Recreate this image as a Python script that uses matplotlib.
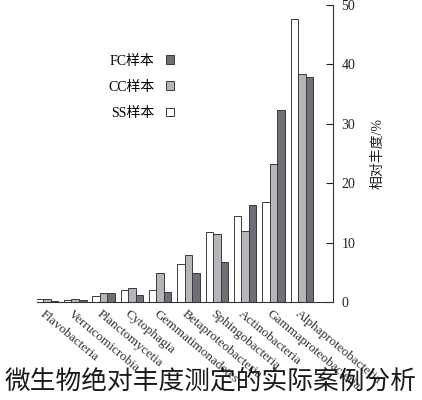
import numpy as np
import matplotlib
matplotlib.use("Agg")
import matplotlib.pyplot as plt

# Classes, ordered from the axis side (right) outwards (left)
classes = [
    "Alphaproteobacteria",
    "Gammaproteobacteria",
    "Actinobacteria",
    "Sphingobacteria",
    "Betaproteobacteria",
    "Gemmatimonadetes",
    "Cytophagia",
    "Planctomycetia",
    "Verrucomicrobia",
    "Flavobacteria",
]

# Relative abundance (%) per sample type
ss_values = [47.6, 16.8, 14.5, 11.8, 6.4, 2.0, 2.0, 1.0, 0.3, 0.5]
cc_values = [38.4, 23.2, 11.9, 11.5, 7.9, 4.8, 2.4, 1.5, 0.5, 0.5]
fc_values = [37.9, 32.3, 16.3, 6.8, 4.8, 1.6, 1.2, 1.5, 0.3, 0.2]

y_ticks = [0, 10, 20, 30, 40, 50]

serif = ["Liberation Serif", "Noto Sans CJK SC"]
plt.rcParams["font.family"] = serif

fig = plt.figure(figsize=(4.22, 4.0), dpi=100)
ax = fig.add_axes([0.0877, 0.245, 0.7014, 0.7425])

x = np.arange(len(classes))
w = 0.265
edge = "#3a3a3a"

# Chart is laid out mirrored: axis on the right, categories run leftwards
ax.bar(x - w, fc_values, w, color="#6f6f78", edgecolor=edge, linewidth=0.7, label="FC样本")
ax.bar(x, cc_values, w, color="#b5b5ba", edgecolor=edge, linewidth=0.7, label="CC样本")
ax.bar(x + w, ss_values, w, color="white", edgecolor=edge, linewidth=0.7, label="SS样本")

ax.set_xlim(9.35, -1.1)
ax.set_ylim(0, 50)

ax.spines["top"].set_visible(False)
ax.spines["left"].set_visible(False)
ax.spines["right"].set_color("#333333")
ax.spines["bottom"].set_color("#333333")
ax.yaxis.tick_right()
ax.yaxis.set_label_position("right")
ax.set_yticks(y_ticks)
ax.tick_params(axis="y", direction="in", length=5, labelsize=10, pad=6, colors="#222222")
ax.set_ylabel("相对丰度/%", rotation=90, fontsize=10, labelpad=12, color="#222222")

ax.set_xticks(x)
ax.set_xticklabels([])
ax.tick_params(axis="x", length=0)
for xi, name in zip(x, classes):
    ax.text(xi + 0.05, -1.0, name, rotation=-40, rotation_mode="anchor",
            ha="left", va="top", fontsize=9.5, color="#333333")

ax.legend(loc="upper right", bbox_to_anchor=(0.442, 0.895),
          bbox_transform=fig.transFigure, frameon=False, markerfirst=False,
          fontsize=10, handlelength=0.6, handleheight=0.6, labelspacing=0.95,
          handletextpad=0.8)

fig.text(0.5, 0.045, "微生物绝对丰度测定的实际案例分析", ha="center", va="center",
         fontsize=18.5, fontweight="light", color="#1a1a1a",
         family=["Noto Sans CJK SC", "DejaVu Sans"])

fig.savefig("out.png", dpi=100)
